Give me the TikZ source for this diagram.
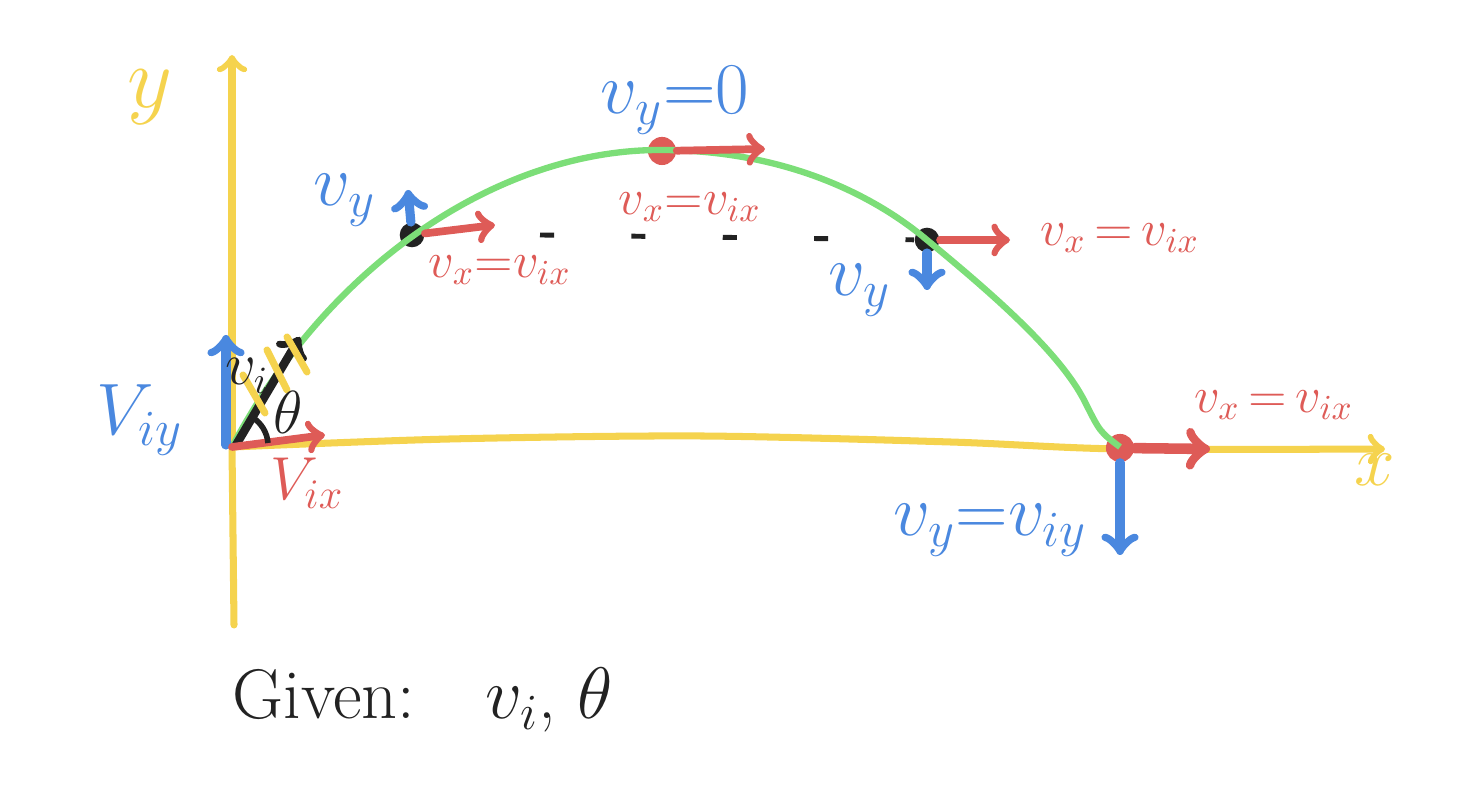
\documentclass[tikz,border=0pt]{standalone}
\usetikzlibrary{positioning}

\definecolor{axisyellow}{HTML}{F5D34E}
\definecolor{pathgreen}{HTML}{7CDE78}
\definecolor{vyblue}{HTML}{4A88DF}
\definecolor{vxred}{HTML}{DE5B57}
\definecolor{inkblack}{HTML}{222222}

\tikzset{
  axisline/.style={axisyellow, line width=2pt, ->, line cap=round},
  vyarrow/.style={vyblue, line width=2.6pt, ->, line cap=round},
  vxarrow/.style={vxred, line width=2.2pt, ->, line cap=round},
  bluelabel/.style={vyblue, font=\fontsize{20}{22}\selectfont},
  redlabel/.style={vxred, font=\fontsize{14}{16}\selectfont},
  blackdot/.style={circle, fill=inkblack, inner sep=0pt, minimum size=7pt},
  reddot/.style={circle, fill=vxred, inner sep=0pt, minimum size=8pt}
}

\begin{document}
\begin{tikzpicture}
\useasboundingbox (0,0) rectangle (14.84,7.92);

\coordinate (o) at (2.32,3.45);
\coordinate (ybot) at (2.34,1.67);
\coordinate (ytop) at (2.32,7.37);
\coordinate (xend) at (13.85,3.43);

\draw [axisyellow, line width=2pt, line cap=round] (ybot) -- (o);
\draw [axisline] (o) -- (ytop);
\draw [axisline] plot [smooth] coordinates {(2.32,3.45) (4.5,3.53) (7.0,3.56) (9.5,3.5) (11.2,3.43) (13.85,3.43)};
\node (ylab) at (1.50,6.95) [axisyellow, font=\fontsize{26}{28}\selectfont] {$y$};
\node (xlab) at (13.75,3.22) [axisyellow, font=\fontsize{20}{22}\selectfont] {$x$};

\node (p1) at (4.12,5.57) [blackdot] {};
\node (top) at (6.62,6.41) [reddot] {};
\node (p3) at (9.27,5.52) [blackdot] {};
\node (land) at (11.20,3.44) [reddot] {};

\draw [pathgreen, line width=1.8pt] (o) .. controls (3.3,5.3) and (5.0,6.42) .. (6.6,6.42)
  .. controls (7.8,6.42) and (8.7,6.0) .. (9.27,5.52)
  .. controls (9.9,5.0) and (10.6,4.4) .. (10.85,3.9)
  .. controls (11.0,3.6) .. (11.2,3.45);

\coordinate (viy) at (2.26,4.57);
\coordinate (vi) at (3.00,4.55);
\coordinate (vix) at (3.25,3.57);
\draw [vyarrow] (2.26,3.47) -- (viy);
\draw [inkblack, line width=2.4pt, ->, line cap=round] (2.36,3.47) -- (vi);
\draw [axisyellow, line width=2pt, line cap=round] (2.43,4.17) -- (2.65,3.79);
\draw [axisyellow, line width=2pt, line cap=round] (2.67,4.42) -- (2.87,4.02);
\draw [axisyellow, line width=2pt, line cap=round] (2.87,4.55) -- (3.07,4.20);
\draw [vxarrow] (o) -- (vix);
\draw [inkblack, line width=1.6pt] (2.68,3.49) arc (5:58:0.34);
\node (viylab) at (1.40,3.72) [bluelabel] {$V_{iy}$};
\node (vilab) at (2.47,4.16) [inkblack, font=\fontsize{16}{18}\selectfont] {$v_i$};
\node (thlab) at (2.88,3.80) [inkblack, font=\fontsize{17}{18}\selectfont] {$\theta$};
\node (vixlab) at (3.07,3.09) [vxred, font=\fontsize{18}{20}\selectfont] {$V_{ix}$};

\coordinate (p1up) at (4.08,6.02);
\coordinate (p1right) at (4.95,5.67);
\draw [vyarrow] (p1) -- (p1up);
\draw [vxarrow] (p1) -- (p1right);
\node (p1vy) at (3.45,5.92) [bluelabel] {$v_y$};
\node (p1vx) at (5.00,5.22) [redlabel] {$v_x{=}v_{ix}$};

\draw [inkblack, line width=1.4pt, dash pattern=on 4pt off 22pt] (5.40,5.57) -- (p3);

\coordinate (topright) at (7.65,6.43);
\draw [vxarrow] (top) -- (topright);
\node (topvy) at (6.75,6.92) [bluelabel] {$v_y{=}0$};
\node (topvx) at (6.90,5.85) [redlabel] {$v_x{=}v_{ix}$};

\coordinate (p3down) at (9.27,5.02);
\coordinate (p3right) at (10.10,5.52);
\draw [vyarrow] (p3) -- (p3down);
\draw [vxarrow] (p3) -- (p3right);
\node (p3vy) at (8.60,5.02) [bluelabel] {$v_y$};
\node (p3vx) at (10.28,5.54) [redlabel, anchor=west] {$v_x\,{=}\,v_{ix}$};

\coordinate (landdown) at (11.20,2.37);
\coordinate (landright) at (12.10,3.43);
\draw [vyarrow] (land) -- (landdown);
\draw [vxred, line width=3pt, ->, line cap=round] (land) -- (landright);
\node (landvy) at (11.00,2.62) [bluelabel, anchor=east] {$v_y{=}v_{iy}$};
\node (landvx) at (11.82,3.87) [redlabel, anchor=west] {$v_x\,{=}\,v_{ix}$};

\node (given) at (2.20,0.92) [anchor=west, inkblack, font=\fontsize{20}{22}\selectfont] {Given:\quad $v_i$, $\theta$};
\end{tikzpicture}
\end{document}
